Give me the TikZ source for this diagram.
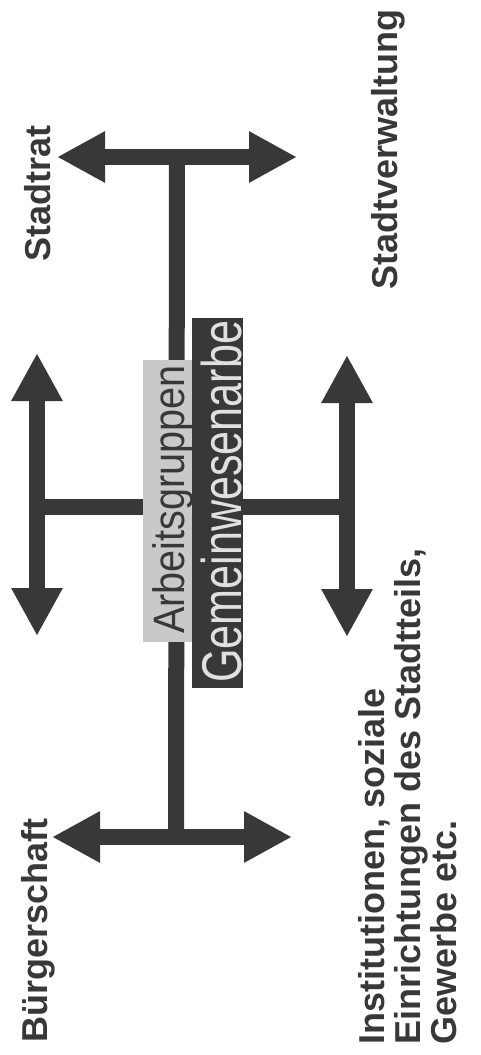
\documentclass[tikz,border=0pt]{standalone}
\usepackage{fontspec}
\setmainfont{Liberation Sans}
\usetikzlibrary{arrows.meta}
\definecolor{ink}{HTML}{383838}
\definecolor{paleg}{HTML}{C9C9C9}
\definecolor{pale}{HTML}{E0E0E0}

\begin{document}
\begin{tikzpicture}[x=1pt, y=-1pt, >={Triangle[width=48pt,length=48pt]},
  bar/.style={draw=ink, line width=16pt},
  dbl/.style={bar, <->},
  lbl/.style={rotate=90, inner sep=0pt, anchor=base west, text=ink,
    font=\bfseries\fontsize{36}{36}\selectfont, align=left}]
  \useasboundingbox[fill=white] (0,0) rectangle (480,1055);

  % ends of the bars
  \coordinate (T1) at (177,157);
  \coordinate (T2) at (176,837);
  \coordinate (TL) at (57,157);
  \coordinate (TR) at (297,157);
  \coordinate (BL) at (52,837);
  \coordinate (BR) at (292,837);
  \coordinate (HL) at (37,507);
  \coordinate (HR) at (347,507);
  \coordinate (HL1) at (37,353);
  \coordinate (HL2) at (37,636);
  \coordinate (HR1) at (347,355);
  \coordinate (HR2) at (347,637);

  \draw[bar] (T1) -- (T2);
  \draw[bar] (HL) -- (HR);
  \draw[dbl] (TL) -- (TR);
  \draw[dbl] (BL) -- (BR);
  \draw[dbl] (HL1) -- (HL2);
  \draw[dbl] (HR1) -- (HR2);

  % the two boxes in the middle
  \node[fill=paleg, rotate=90, minimum width=282pt, minimum height=49pt, inner sep=0pt] (B1) at (167.5,501) {};
  \node[fill=ink, rotate=90, minimum width=370pt, minimum height=51pt, inner sep=0pt] (B2) at (217.5,503) {};
  \node[rotate=90, inner sep=0pt, anchor=base west, text=ink,
    font=\fontsize{44}{44}\selectfont] (A1) at (184,634) {\scalebox{0.9}[1]{Arbeitsgruppen}};
  \node[rotate=90, inner sep=0pt, anchor=base west, text=pale,
    font=\fontsize{56}{56}\selectfont] (A2) at (241,683) {\scalebox{0.77}[1]{Gemeinwesenarbe}};

  % labels
  \node[lbl] (L1) at (50,262) {Stadtrat};
  \node[lbl] (L2) at (397,290) {Stadtverwaltung};
  \node[lbl] (L3) at (47,1043) {Bürgerschaft};
  \node[lbl, anchor=north west] (L4) at (358,1045) {Institutionen, soziale\\Einrichtungen des Stadtteils,\\Gewerbe etc.};
\end{tikzpicture}
\end{document}
